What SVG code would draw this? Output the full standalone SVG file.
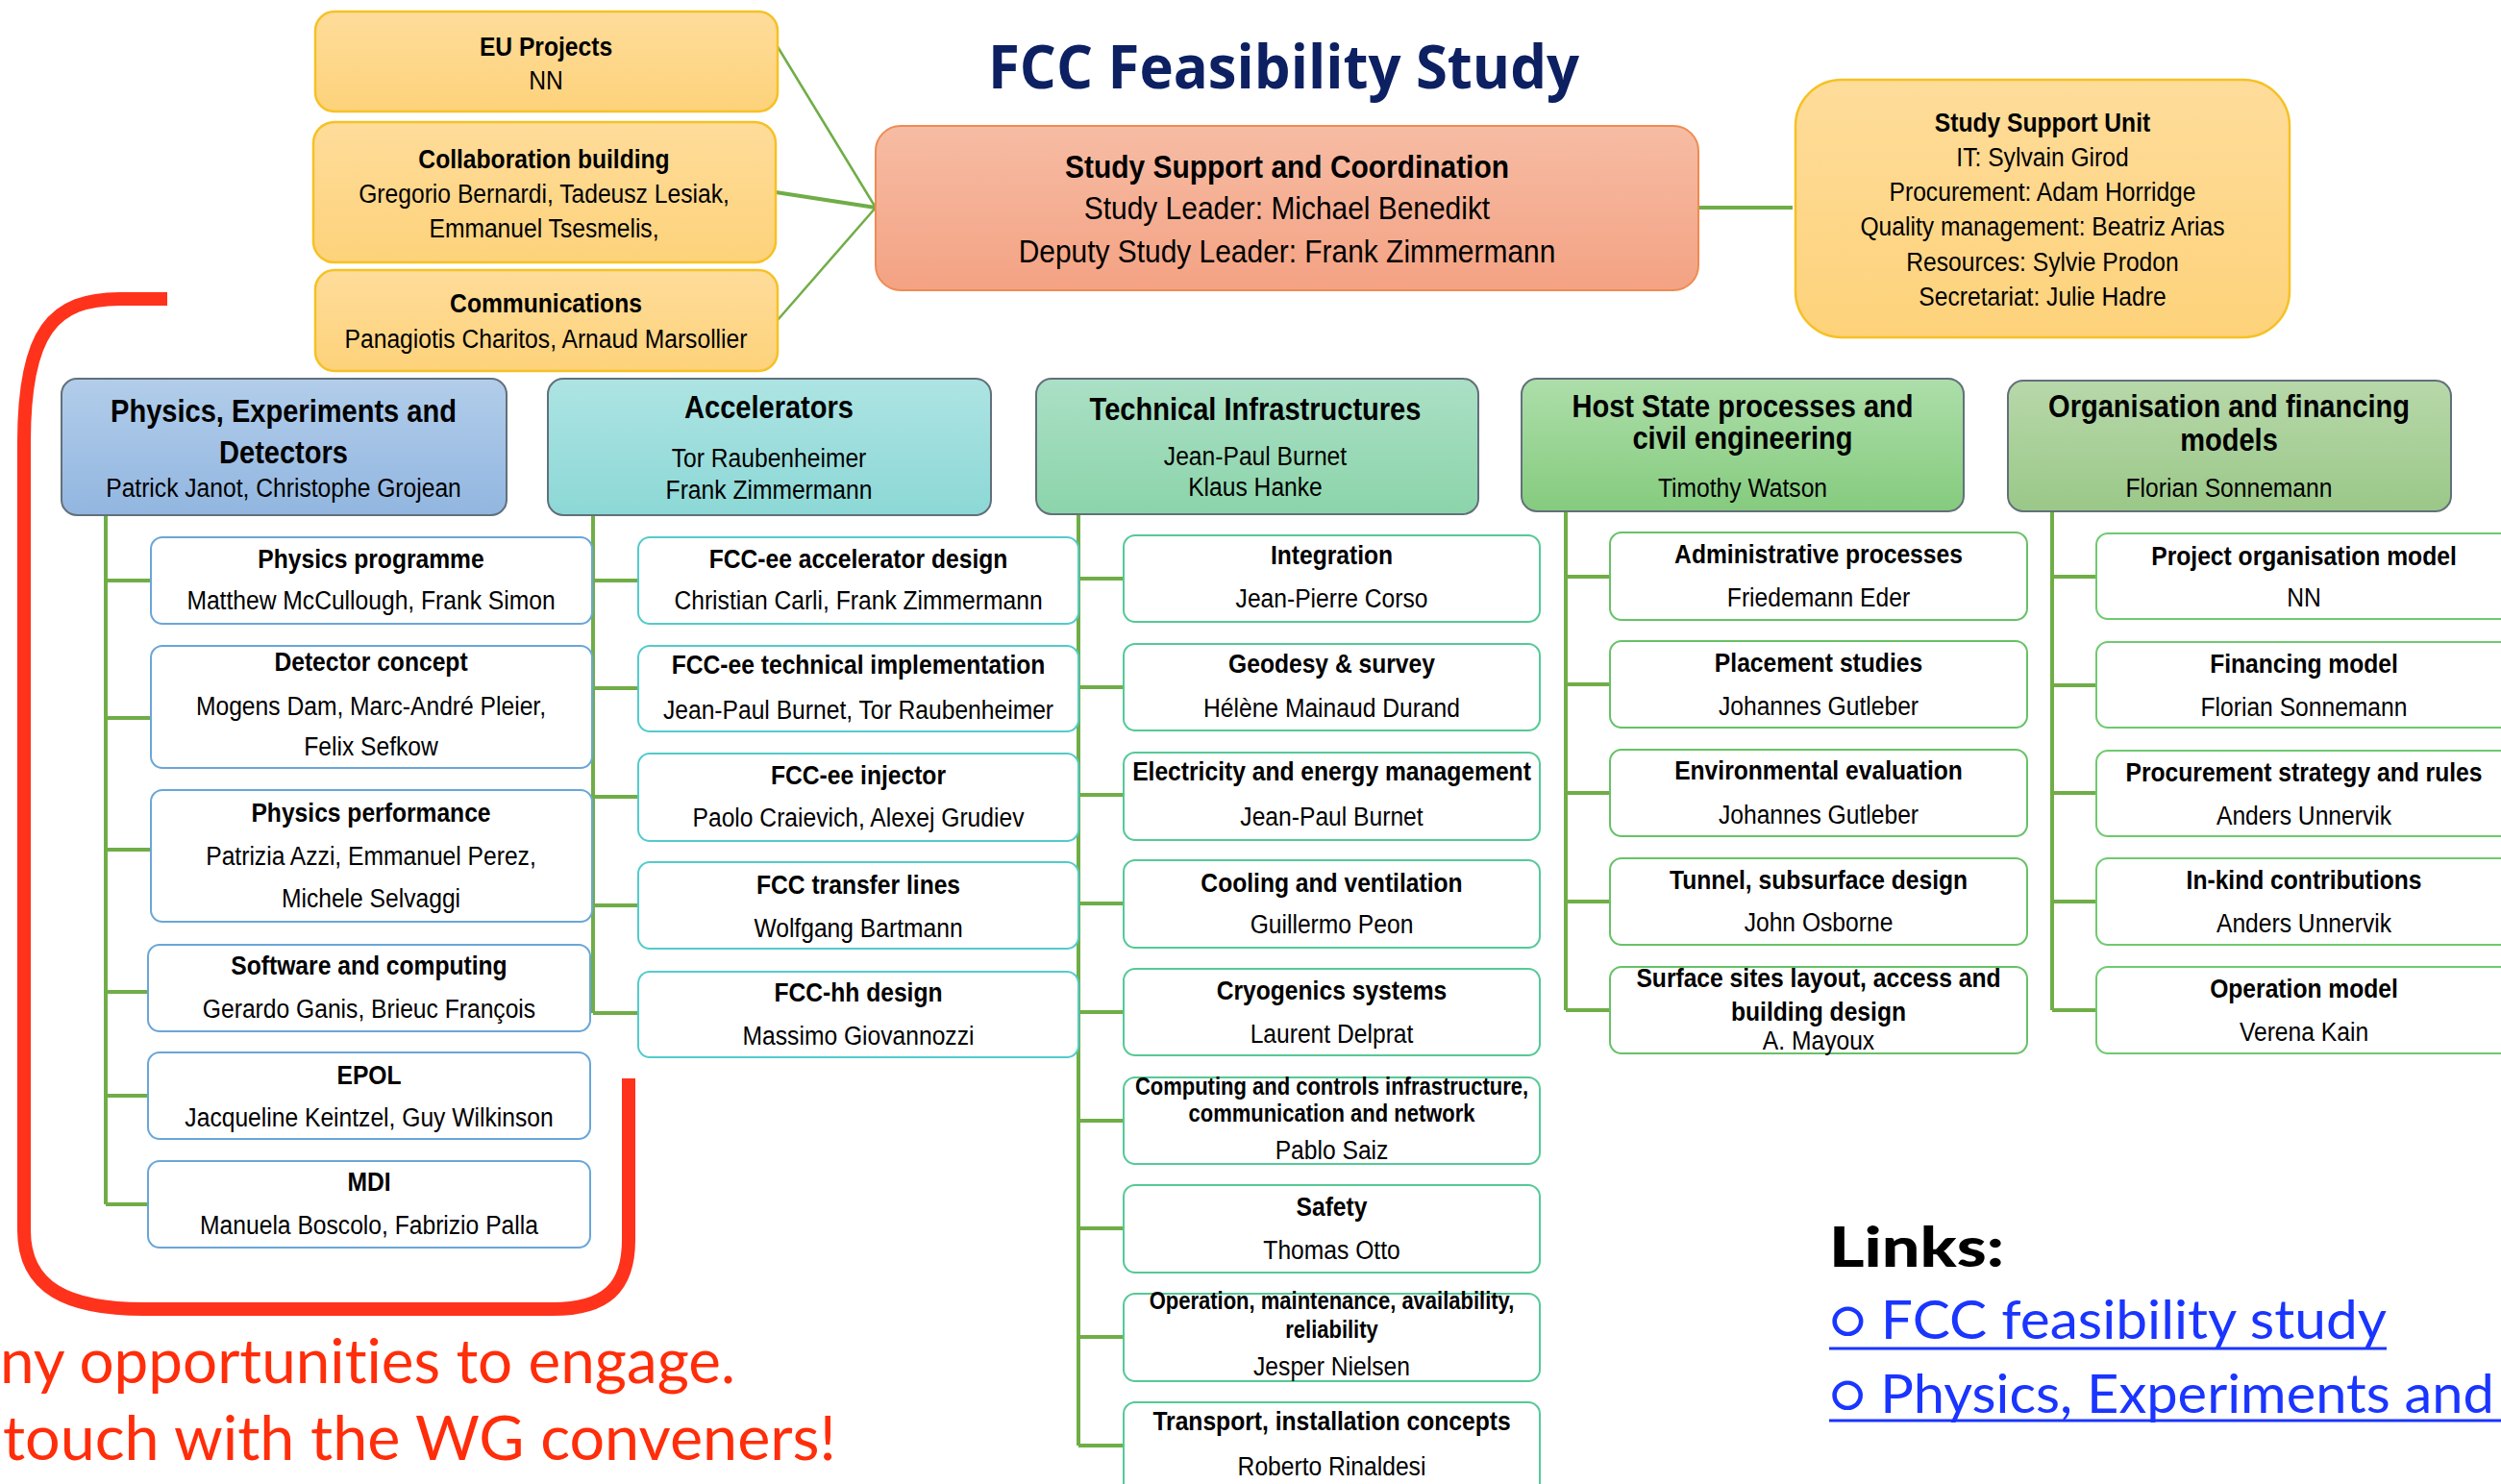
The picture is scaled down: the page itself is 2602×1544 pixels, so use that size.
<svg xmlns="http://www.w3.org/2000/svg" width="2602" height="1544" viewBox="0 0 2602 1544">
<style>
text{font-family:"Liberation Sans",Arial,sans-serif;text-anchor:middle;fill:#000}
.b{font-weight:bold;font-size:28px}
.r{font-size:28px}
.hb{font-weight:bold;font-size:33px}
.sb{font-weight:bold;font-size:25px}
.big{font-size:34px}
.conn{stroke:#70ad47;stroke-width:4;fill:none}
.c1{fill:#fff;stroke:#6aa6d8;stroke-width:2}
.c2{fill:#fff;stroke:#53cbcc;stroke-width:2}
.c3{fill:#fff;stroke:#55c996;stroke-width:2}
.c4{fill:#fff;stroke:#66c266;stroke-width:2}
.c5{fill:#fff;stroke:#6fc96f;stroke-width:2}
.hd{stroke:#62707a;stroke-width:2}
.yel{fill:url(#gY);stroke:#f6c124;stroke-width:2.5}
.gill{font-family:Lato,"Open Sans","DejaVu Sans",sans-serif;text-anchor:start;font-variant-ligatures:none}
</style>
<defs>
<linearGradient id="gY" x1="0" y1="0" x2="0" y2="1"><stop offset="0" stop-color="#fedc9a"/><stop offset="1" stop-color="#fdd27a"/></linearGradient>
<linearGradient id="gO" x1="0" y1="0" x2="0" y2="1"><stop offset="0" stop-color="#f6bca4"/><stop offset="1" stop-color="#f4a283"/></linearGradient>
<linearGradient id="gB" x1="0" y1="0" x2="0" y2="1"><stop offset="0" stop-color="#b2cdea"/><stop offset="1" stop-color="#92b6e0"/></linearGradient>
<linearGradient id="gT" x1="0" y1="0" x2="0" y2="1"><stop offset="0" stop-color="#ade4e3"/><stop offset="1" stop-color="#8cd8d6"/></linearGradient>
<linearGradient id="gTG" x1="0" y1="0" x2="0" y2="1"><stop offset="0" stop-color="#abe0c6"/><stop offset="1" stop-color="#8bd4aa"/></linearGradient>
<linearGradient id="gG" x1="0" y1="0" x2="0" y2="1"><stop offset="0" stop-color="#addeaa"/><stop offset="1" stop-color="#85cb7e"/></linearGradient>
<linearGradient id="gOl" x1="0" y1="0" x2="0" y2="1"><stop offset="0" stop-color="#b8d8aa"/><stop offset="1" stop-color="#9ac888"/></linearGradient>
</defs>
<rect width="2602" height="1544" fill="#fff"/>

<!-- title -->
<text id="title" x="1028" y="92" textLength="615" lengthAdjust="spacingAndGlyphs" style="font-family:'Open Sans','Noto Sans',sans-serif;font-weight:bold;font-size:62px;fill:#0c2062;text-anchor:start">FCC Feasibility Study</text>

<!-- red bracket -->
<path d="M174,311 H125 C55,311 25,345 25,460 V1280 C25,1340 70,1362 150,1362 H575 C630,1362 654,1340 654,1290 V1122" fill="none" stroke="#ff321c" stroke-width="14"/>

<!-- connectors -->
<g id="connectors">
<path d="M808,47 L911,216" class="conn" style="stroke-width:2.5"/>
<path d="M807,200 L911,216" class="conn"/>
<path d="M809,333 L911,216" class="conn" style="stroke-width:2.5"/>
<path d="M1767,216 H1865" class="conn"/>
<path class="conn" d="M110,536 V1253 M110,604 H157 M110,747 H157 M110,884 H157 M110,1032 H154 M110,1140 H154 M110,1253 H154"/>
<path class="conn" d="M617,536 V1054 M617,604 H664 M617,716 H664 M617,829 H664 M617,942 H664 M617,1054 H664"/>
<path class="conn" d="M1122,535 V1504 M1122,602 H1169 M1122,715 H1169 M1122,827 H1169 M1122,940 H1169 M1122,1053 H1169 M1122,1166 H1169 M1122,1278 H1169 M1122,1391 H1169 M1122,1504 H1169"/>
<path class="conn" d="M1629,532 V1051 M1629,600 H1675 M1629,712 H1675 M1629,825 H1675 M1629,938 H1675 M1629,1051 H1675"/>
<path class="conn" d="M2135,532 V1051 M2135,600 H2181 M2135,713 H2181 M2135,825 H2181 M2135,938 H2181 M2135,1051 H2181"/>
</g>

<!-- top nodes -->
<g id="eu"><rect x="328" y="12" width="481" height="104" rx="20" class="yel"/>
<g transform="translate(568 0) scale(0.88 1)"><text class="b" y="58">EU Projects</text><text class="r" y="93">NN</text></g></g>
<g id="collab"><rect x="326" y="127" width="481" height="146" rx="22" class="yel"/>
<g transform="translate(566 0) scale(0.88 1)"><text class="b" y="175">Collaboration building</text><text class="r" y="211">Gregorio Bernardi, Tadeusz Lesiak,</text><text class="r" y="247">Emmanuel Tsesmelis,</text></g></g>
<g id="comms"><rect x="328" y="281" width="481" height="105" rx="20" class="yel"/>
<g transform="translate(568 0) scale(0.88 1)"><text class="b" y="325">Communications</text><text class="r" y="362">Panagiotis Charitos, Arnaud Marsollier</text></g></g>

<g id="ssc"><rect x="911" y="131" width="856" height="171" rx="26" fill="url(#gO)" stroke="#ef8b52" stroke-width="2"/>
<g transform="translate(1339 0) scale(0.88 1)"><text class="big" y="185" font-weight="bold">Study Support and Coordination</text><text class="big" y="228">Study Leader: Michael Benedikt</text><text class="big" y="273">Deputy Study Leader: Frank Zimmermann</text></g></g>

<g id="ssu"><rect x="1868" y="83" width="514" height="268" rx="48" class="yel"/>
<g transform="translate(2125 0) scale(0.88 1)"><text class="b" y="137">Study Support Unit</text><text class="r" y="173">IT: Sylvain Girod</text><text class="r" y="209">Procurement: Adam Horridge</text><text class="r" y="245">Quality management: Beatriz Arias</text><text class="r" y="282">Resources: Sylvie Prodon</text><text class="r" y="318">Secretariat: Julie Hadre</text></g></g>

<!-- headers -->
<g id="h-phys"><rect x="64" y="394" width="463" height="142" rx="16" fill="url(#gB)" class="hd"/>
<g transform="translate(295 0) scale(0.88 1)"><text class="hb" y="439">Physics, Experiments and</text><text class="hb" y="482">Detectors</text><text class="r" y="517">Patrick Janot, Christophe Grojean</text></g></g>
<g id="h-acc"><rect x="570" y="394" width="461" height="142" rx="16" fill="url(#gT)" class="hd"/>
<g transform="translate(800 0) scale(0.88 1)"><text class="hb" y="435">Accelerators</text><text class="r" y="486">Tor Raubenheimer</text><text class="r" y="519">Frank Zimmermann</text></g></g>
<g id="h-tech"><rect x="1078" y="394" width="460" height="141" rx="16" fill="url(#gTG)" class="hd"/>
<g transform="translate(1306 0) scale(0.88 1)"><text class="hb" y="437">Technical Infrastructures</text><text class="r" y="484">Jean-Paul Burnet</text><text class="r" y="516">Klaus Hanke</text></g></g>
<g id="h-host"><rect x="1583" y="394" width="460" height="138" rx="16" fill="url(#gG)" class="hd"/>
<g transform="translate(1813 0) scale(0.88 1)"><text class="hb" y="434">Host State processes and</text><text class="hb" y="467">civil engineering</text><text class="r" y="517">Timothy Watson</text></g></g>
<g id="h-org"><rect x="2089" y="396" width="461" height="136" rx="16" fill="url(#gOl)" class="hd"/>
<g transform="translate(2319 0) scale(0.88 1)"><text class="hb" y="434">Organisation and financing</text><text class="hb" y="469">models</text><text class="r" y="517">Florian Sonnemann</text></g></g>

<!-- column 1 -->
<g id="p1"><rect x="157" y="559" width="459" height="90" rx="12" class="c1"/><g transform="translate(386 0) scale(0.88 1)"><text class="b" y="591">Physics programme</text><text class="r" y="634">Matthew McCullough, Frank Simon</text></g></g>
<g id="p2"><rect x="157" y="672" width="459" height="127" rx="12" class="c1"/><g transform="translate(386 0) scale(0.88 1)"><text class="b" y="698">Detector concept</text><text class="r" y="744">Mogens Dam, Marc-André Pleier,</text><text class="r" y="786">Felix Sefkow</text></g></g>
<g id="p3"><rect x="157" y="822" width="459" height="137" rx="12" class="c1"/><g transform="translate(386 0) scale(0.88 1)"><text class="b" y="855">Physics performance</text><text class="r" y="900">Patrizia Azzi, Emmanuel Perez,</text><text class="r" y="944">Michele Selvaggi</text></g></g>
<g id="p4"><rect x="154" y="983" width="460" height="90" rx="12" class="c1"/><g transform="translate(384 0) scale(0.88 1)"><text class="b" y="1014">Software and computing</text><text class="r" y="1059">Gerardo Ganis, Brieuc François</text></g></g>
<g id="p5"><rect x="154" y="1095" width="460" height="90" rx="12" class="c1"/><g transform="translate(384 0) scale(0.88 1)"><text class="b" y="1128">EPOL</text><text class="r" y="1172">Jacqueline Keintzel, Guy Wilkinson</text></g></g>
<g id="p6"><rect x="154" y="1208" width="460" height="90" rx="12" class="c1"/><g transform="translate(384 0) scale(0.88 1)"><text class="b" y="1239">MDI</text><text class="r" y="1284">Manuela Boscolo, Fabrizio Palla</text></g></g>

<!-- column 2 -->
<g id="a1"><rect x="664" y="559" width="458" height="90" rx="12" class="c2"/><g transform="translate(893 0) scale(0.88 1)"><text class="b" y="591">FCC-ee accelerator design</text><text class="r" y="634">Christian Carli, Frank Zimmermann</text></g></g>
<g id="a2"><rect x="664" y="672" width="458" height="89" rx="12" class="c2"/><g transform="translate(893 0) scale(0.88 1)"><text class="b" y="701">FCC-ee technical implementation</text><text class="r" y="748">Jean-Paul Burnet, Tor Raubenheimer</text></g></g>
<g id="a3"><rect x="664" y="784" width="458" height="91" rx="12" class="c2"/><g transform="translate(893 0) scale(0.88 1)"><text class="b" y="816">FCC-ee injector</text><text class="r" y="860">Paolo Craievich, Alexej Grudiev</text></g></g>
<g id="a4"><rect x="664" y="897" width="458" height="90" rx="12" class="c2"/><g transform="translate(893 0) scale(0.88 1)"><text class="b" y="930">FCC transfer lines</text><text class="r" y="975">Wolfgang Bartmann</text></g></g>
<g id="a5"><rect x="664" y="1011" width="458" height="89" rx="12" class="c2"/><g transform="translate(893 0) scale(0.88 1)"><text class="b" y="1042">FCC-hh design</text><text class="r" y="1087">Massimo Giovannozzi</text></g></g>

<!-- column 3 -->
<g id="t1"><rect x="1169" y="557" width="433" height="90" rx="12" class="c3"/><g transform="translate(1385.5 0) scale(0.88 1)"><text class="b" y="587">Integration</text><text class="r" y="632">Jean-Pierre Corso</text></g></g>
<g id="t2"><rect x="1169" y="670" width="433" height="90" rx="12" class="c3"/><g transform="translate(1385.5 0) scale(0.88 1)"><text class="b" y="700">Geodesy &amp; survey</text><text class="r" y="746">Hélène Mainaud Durand</text></g></g>
<g id="t3"><rect x="1169" y="783" width="433" height="91" rx="12" class="c3"/><g transform="translate(1385.5 0) scale(0.88 1)"><text class="b" y="812">Electricity and energy management</text><text class="r" y="859">Jean-Paul Burnet</text></g></g>
<g id="t4"><rect x="1169" y="895" width="433" height="91" rx="12" class="c3"/><g transform="translate(1385.5 0) scale(0.88 1)"><text class="b" y="928">Cooling and ventilation</text><text class="r" y="971">Guillermo Peon</text></g></g>
<g id="t5"><rect x="1169" y="1008" width="433" height="90" rx="12" class="c3"/><g transform="translate(1385.5 0) scale(0.88 1)"><text class="b" y="1040">Cryogenics systems</text><text class="r" y="1085">Laurent Delprat</text></g></g>
<g id="t6"><rect x="1169" y="1121" width="433" height="90" rx="12" class="c3"/><g transform="translate(1385.5 0) scale(0.88 1)"><text class="sb" y="1139">Computing and controls infrastructure,</text><text class="sb" y="1167">communication and network</text><text class="r" y="1206">Pablo Saiz</text></g></g>
<g id="t7"><rect x="1169" y="1233" width="433" height="91" rx="12" class="c3"/><g transform="translate(1385.5 0) scale(0.88 1)"><text class="b" y="1265">Safety</text><text class="r" y="1310">Thomas Otto</text></g></g>
<g id="t8"><rect x="1169" y="1346" width="433" height="91" rx="12" class="c3"/><g transform="translate(1385.5 0) scale(0.88 1)"><text class="sb" y="1362">Operation, maintenance, availability,</text><text class="sb" y="1392">reliability</text><text class="r" y="1431">Jesper Nielsen</text></g></g>
<g id="t9"><rect x="1169" y="1459" width="433" height="100" rx="12" class="c3"/><g transform="translate(1385.5 0) scale(0.88 1)"><text class="b" y="1488">Transport, installation concepts</text><text class="r" y="1535">Roberto Rinaldesi</text></g></g>

<!-- column 4 -->
<g id="s1"><rect x="1675" y="554" width="434" height="91" rx="12" class="c4"/><g transform="translate(1892 0) scale(0.88 1)"><text class="b" y="586">Administrative processes</text><text class="r" y="631">Friedemann Eder</text></g></g>
<g id="s2"><rect x="1675" y="667" width="434" height="90" rx="12" class="c4"/><g transform="translate(1892 0) scale(0.88 1)"><text class="b" y="699">Placement studies</text><text class="r" y="744">Johannes Gutleber</text></g></g>
<g id="s3"><rect x="1675" y="780" width="434" height="90" rx="12" class="c4"/><g transform="translate(1892 0) scale(0.88 1)"><text class="b" y="811">Environmental evaluation</text><text class="r" y="857">Johannes Gutleber</text></g></g>
<g id="s4"><rect x="1675" y="893" width="434" height="90" rx="12" class="c4"/><g transform="translate(1892 0) scale(0.88 1)"><text class="b" y="925">Tunnel, subsurface design</text><text class="r" y="969">John Osborne</text></g></g>
<g id="s5"><rect x="1675" y="1006" width="434" height="90" rx="12" class="c4"/><g transform="translate(1892 0) scale(0.88 1)"><text class="b" y="1027">Surface sites layout, access and</text><text class="b" y="1062">building design</text><text class="r" y="1092">A. Mayoux</text></g></g>

<!-- column 5 -->
<g id="o1"><rect x="2181" y="555" width="432" height="89" rx="12" class="c5"/><g transform="translate(2397 0) scale(0.88 1)"><text class="b" y="588">Project organisation model</text><text class="r" y="631">NN</text></g></g>
<g id="o2"><rect x="2181" y="668" width="432" height="89" rx="12" class="c5"/><g transform="translate(2397 0) scale(0.88 1)"><text class="b" y="700">Financing model</text><text class="r" y="745">Florian Sonnemann</text></g></g>
<g id="o3"><rect x="2181" y="781" width="432" height="89" rx="12" class="c5"/><g transform="translate(2397 0) scale(0.88 1)"><text class="b" y="813">Procurement strategy and rules</text><text class="r" y="858">Anders Unnervik</text></g></g>
<g id="o4"><rect x="2181" y="893" width="432" height="90" rx="12" class="c5"/><g transform="translate(2397 0) scale(0.88 1)"><text class="b" y="925">In-kind contributions</text><text class="r" y="970">Anders Unnervik</text></g></g>
<g id="o5"><rect x="2181" y="1006" width="432" height="90" rx="12" class="c5"/><g transform="translate(2397 0) scale(0.88 1)"><text class="b" y="1038">Operation model</text><text class="r" y="1083">Verena Kain</text></g></g>

<!-- red text -->
<text class="gill" x="0" y="1439" textLength="765" lengthAdjust="spacingAndGlyphs" style="font-size:64px;fill:#ff2d0a">ny opportunities to engage.</text>
<text class="gill" x="3" y="1519" textLength="867" lengthAdjust="spacingAndGlyphs" style="font-size:64px;fill:#ff2d0a">touch with the WG conveners!</text>

<!-- links -->
<text class="gill" x="1903" y="1318" textLength="182" lengthAdjust="spacingAndGlyphs" style="font-size:58px;font-weight:900">Links:</text>
<text class="gill" x="1903" y="1393" textLength="580" lengthAdjust="spacingAndGlyphs" style="font-size:56px;fill:#1a35ff">○ FCC feasibility study</text>
<line x1="1903" y1="1403" x2="2483" y2="1403" stroke="#1a35ff" stroke-width="3"/>
<text class="gill" x="1903" y="1470" textLength="692" lengthAdjust="spacingAndGlyphs" style="font-size:56px;fill:#1a35ff">○ Physics, Experiments and</text>
<line x1="1903" y1="1478" x2="2602" y2="1478" stroke="#1a35ff" stroke-width="3"/>
</svg>
